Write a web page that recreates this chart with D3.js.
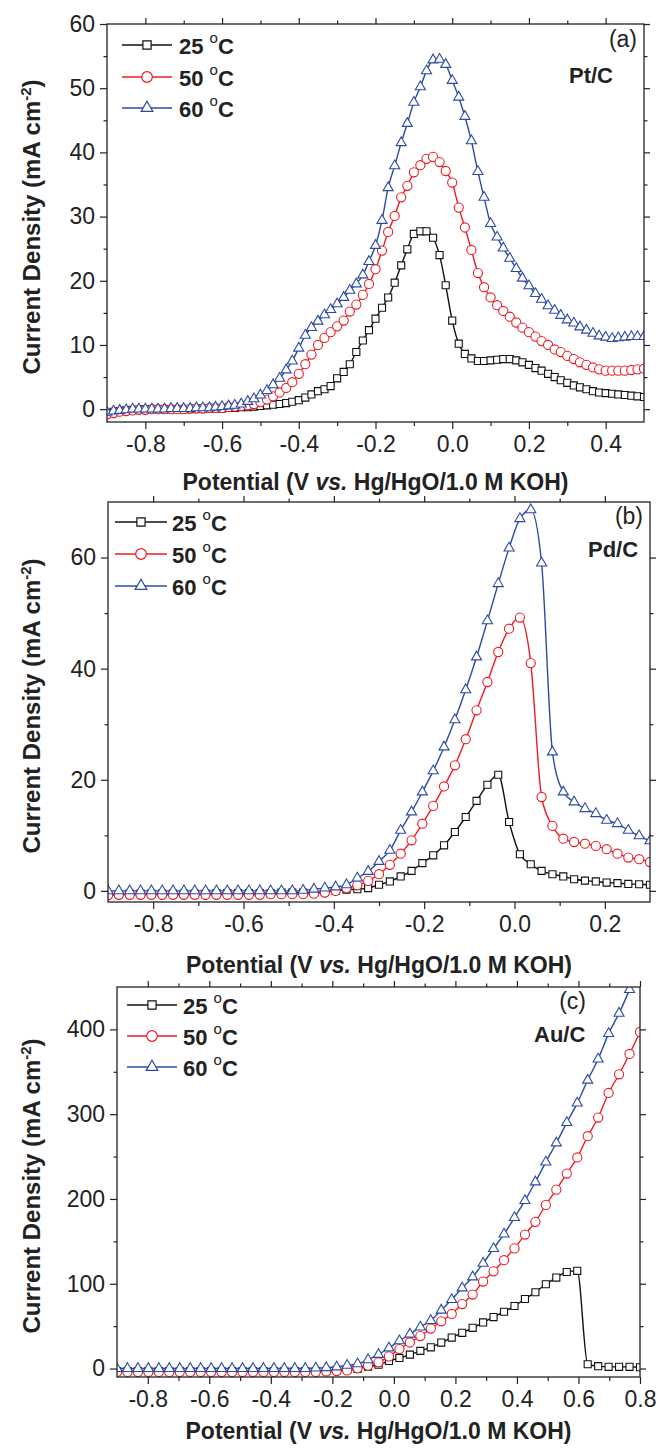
<!DOCTYPE html>
<html><head><meta charset="utf-8">
<script src="https://cdn.jsdelivr.net/npm/d3@7/dist/d3.min.js"></script>
<style>
body{margin:0;background:#fff;}
svg text{font-family:"Liberation Sans",Arial,Helvetica,sans-serif;fill:#222;}
</style></head><body>
<svg id="chart" width="660" height="1450"></svg>
<script>
// ---------------- DATA ----------------
const seriesLabels = ["25", "50", "60"];

// Panel (a) Pt/C
const potentialA = [-0.900,-0.883,-0.867,-0.850,-0.833,-0.817,-0.800,-0.783,-0.767,-0.750,
 -0.733,-0.717,-0.700,-0.683,-0.667,-0.650,-0.633,-0.617,-0.600,-0.583,
 -0.567,-0.550,-0.533,-0.517,-0.500,-0.483,-0.467,-0.450,-0.433,-0.417,
 -0.400,-0.383,-0.367,-0.350,-0.333,-0.317,-0.300,-0.283,-0.267,-0.250,
 -0.233,-0.217,-0.200,-0.183,-0.167,-0.150,-0.133,-0.117,-0.100,-0.083,
 -0.067,-0.050,-0.033,-0.017,0.000,0.017,0.033,0.050,0.067,0.083,
 0.100,0.117,0.133,0.150,0.167,0.183,0.200,0.217,0.233,0.250,
 0.267,0.283,0.300,0.317,0.333,0.350,0.367,0.383,0.400,0.417,
 0.433,0.450,0.467,0.483,0.500];
const ptc25 = [-0.6,-0.4,-0.3,-0.2,-0.1,-0.1,0,0,0,0,
 0,0,0,0,0.1,0.1,0.1,0.1,0.1,0.2,
 0.2,0.3,0.3,0.4,0.5,0.6,0.7,0.8,0.95,1.15,
 1.4,1.8,2.3,2.8,3.1,3.6,4.8,5.8,7.0,8.9,
 10.7,12.3,14.1,15.8,17.4,19.7,22.4,24.9,27.3,27.7,
 27.7,26.7,24.0,19.3,13.8,10.2,8.6,7.9,7.5,7.5,
 7.6,7.7,7.8,7.8,7.6,7.3,6.9,6.4,6.0,5.5,
 5.0,4.5,4.1,3.7,3.4,3.1,2.8,2.6,2.5,2.4,
 2.3,2.2,2.1,2.0,1.9];
const ptc50 = [-0.8,-0.6,-0.4,-0.3,-0.2,-0.1,-0.1,0,0,0,
 0,0,0,0.1,0.1,0.1,0.2,0.2,0.2,0.3,
 0.4,0.5,0.6,0.8,1.1,1.5,2.0,2.6,3.3,4.2,
 5.5,7.0,8.5,10.0,11.1,12.0,12.9,13.8,15.2,16.3,
 17.8,19.5,21.8,24.7,27.6,30.1,33.0,34.8,36.9,38.0,
 39.0,39.3,38.5,37.1,35.3,31.4,28.3,24.8,21.2,19.0,
 17.4,16.2,15.3,14.4,13.5,12.7,12.0,11.3,10.6,10.0,
 9.3,8.9,8.3,7.8,7.3,6.9,6.5,6.2,6.0,6.0,
 6.0,6.0,6.1,6.2,6.3];
const ptc60 = [-0.5,-0.3,-0.2,-0.1,0,0,0,0,0,0,
 0.1,0.1,0.1,0.1,0.2,0.2,0.2,0.3,0.4,0.5,
 0.6,0.8,1.2,1.6,2.2,2.9,3.8,4.8,6.1,7.5,
 9.5,11.5,12.7,13.7,14.7,15.5,16.4,17.4,18.5,19.5,
 20.9,23.0,25.5,29.4,34.5,37.9,41.5,44.5,47.8,50.2,
 52.7,54.4,54.5,53.7,51.2,48.6,45.6,41.8,37.0,33.0,
 28.9,26.8,25.1,23.5,21.9,20.4,19.2,18.0,17.1,16.1,
 15.4,14.6,13.9,13.4,12.8,12.3,11.8,11.4,11.2,11.0,
 11.1,11.2,11.3,11.3,11.3];
const xTicksA = [-0.8,-0.6,-0.4,-0.2,0.0,0.2,0.4];
const xMinorA = [-0.7,-0.5,-0.3,-0.1,0.1,0.3];
const yTicksA = [0,10,20,30,40,50,60];
const yMinorA = [5,15,25,35,45,55];

// Panel (b) Pd/C
const potentialB = [-0.900,-0.876,-0.852,-0.828,-0.804,-0.780,-0.756,-0.732,-0.708,-0.684,
 -0.660,-0.636,-0.612,-0.588,-0.564,-0.540,-0.516,-0.492,-0.468,-0.444,
 -0.420,-0.396,-0.372,-0.348,-0.324,-0.300,-0.276,-0.252,-0.228,-0.204,
 -0.180,-0.156,-0.132,-0.108,-0.084,-0.060,-0.036,-0.012,0.012,0.036,
 0.060,0.084,0.108,0.132,0.156,0.180,0.204,0.228,0.252,0.276,0.300];
const pdc25 = [-0.7,-0.6,-0.5,-0.5,-0.5,-0.5,-0.5,-0.5,-0.5,-0.5,
 -0.4,-0.4,-0.4,-0.4,-0.4,-0.4,-0.3,-0.3,-0.3,-0.3,
 -0.2,0.0,0.2,0.3,0.5,1.1,1.7,2.6,3.6,5.0,
 6.4,8.2,10.6,13.3,16.2,19.1,20.9,12.4,6.6,4.8,
 3.6,3.0,2.6,2.1,1.85,1.7,1.5,1.4,1.25,1.2,1.1];
const pdc50 = [-0.8,-0.7,-0.7,-0.7,-0.7,-0.7,-0.7,-0.7,-0.7,-0.7,
 -0.7,-0.7,-0.7,-0.7,-0.7,-0.6,-0.6,-0.6,-0.6,-0.5,
 -0.3,0.0,0.5,1.0,1.8,3.0,4.7,6.7,9.1,12.1,
 15.3,18.8,22.6,27.3,32.5,37.6,43.0,47.2,49.2,41.0,
 16.9,11.7,9.4,8.8,8.5,8.1,7.5,6.7,6.0,5.7,5.2];
const pdc60 = [0.0,0.0,0.0,0.0,0.0,0.0,0.0,0.0,0.0,0.0,
 0.0,0.0,0.0,0.0,0.0,0.0,0.0,0.0,0.1,0.3,
 0.5,0.7,1.1,2.3,3.5,5.3,7.3,10.9,14.2,17.8,
 21.6,25.9,30.8,36.2,42.1,48.6,55.3,61.7,67.0,68.6,
 59.0,25.0,17.8,16.0,14.8,13.9,12.7,12.1,10.9,9.9,9.0];
const xTicksB = [-0.8,-0.6,-0.4,-0.2,0.0,0.2];
const xMinorB = [-0.7,-0.5,-0.3,-0.1,0.1];
const yTicksB = [0,20,40,60];
const yMinorB = [10,30,50];

// Panel (c) Au/C
const potentialC = [-0.900,-0.866,-0.832,-0.798,-0.764,-0.730,-0.696,-0.662,-0.628,-0.594,
 -0.560,-0.526,-0.492,-0.458,-0.424,-0.390,-0.356,-0.322,-0.288,-0.254,
 -0.220,-0.186,-0.152,-0.118,-0.084,-0.050,-0.016,0.018,0.052,0.086,
 0.120,0.154,0.188,0.222,0.256,0.290,0.324,0.358,0.392,0.426,
 0.460,0.494,0.528,0.562,0.596,0.630,0.664,0.698,0.732,0.766,0.800];
const auc25 = [-3,-3,-3,-3,-3,-3,-3,-3,-3,-3,
 -3,-3,-3,-3,-3,-3,-3,-3,-3,-3,
 -3,-2,-1.5,-0.5,2.1,4.5,9.0,12.4,16.4,20.8,
 25.0,30.6,36.5,42.1,48.0,54.4,60.7,67.0,73.7,82.0,
 90.0,99.4,107.3,113.8,115.2,5.0,2.8,2.0,2.0,2.0,1.5];
const auc50 = [-4,-4,-4,-4,-4,-4,-4,-4,-4,-4,
 -4,-4,-4,-4,-4,-4,-4,-4,-4,-4,
 -3.5,-3.0,-2.2,0.2,3.4,7.3,14.3,23.0,30.7,38.3,
 47.1,55.7,64.4,76.0,87.2,102.6,114.7,127.8,141.7,158.0,
 173.0,193.0,211.0,230.0,249.0,274.0,296.0,325.0,347.0,371.0,397.0];
const auc60 = [0,0,0,0,0,0,0,0,0,0,
 0,0,0,0,0,0,0,0,0,0.5,
 1.0,1.8,3.7,5.5,10.3,16.6,24.2,32.6,40.5,48.9,
 56.6,68.8,81.3,95.0,108.0,124.0,141.5,158.5,178.0,198.0,
 220.0,243.5,266.0,290.0,313.0,340.0,365.0,395.0,419.0,447.0,null];
const xTicksC = [-0.8,-0.6,-0.4,-0.2,0.0,0.2,0.4,0.6,0.8];
const xMinorC = [-0.7,-0.5,-0.3,-0.1,0.1,0.3,0.5,0.7];
const yTicksC = [0,100,200,300,400];
const yMinorC = [50,150,250,350];

// ---------------- LAYOUT / STYLE ----------------
const colors = ["#111111", "#ec1c24", "#2b4aa6"];
const symbolTypes = [d3.symbolSquare, d3.symbolCircle, d3.symbolTriangle];
const symbolSizes = [50, 66, 44];
const axisColor = "#222";

const panels = [
  {box:{l:107,r:644,t:24,b:422}, x:potentialA, ys:[ptc25,ptc50,ptc60], xDom:[-0.9,0.5], yDom:[-2,60],
   xMajor:xTicksA, xMinor:xMinorA, yMajor:yTicksA, yMinor:yMinorA,
   legend:{x0:122,x1:172,tx:179,rows:[45,77,108]},
   tag:{text:"(a)",x:637,y:47}, name:{text:"Pt/C",x:569,y:83}, xTitleY:490},
  {box:{l:108,r:650,t:502,b:902}, x:potentialB, ys:[pdc25,pdc50,pdc60], xDom:[-0.9,0.3], yDom:[-2,70],
   xMajor:xTicksB, xMinor:xMinorB, yMajor:yTicksB, yMinor:yMinorB,
   legend:{x0:115,x1:167,tx:172,rows:[522,554,586]},
   tag:{text:"(b)",x:643,y:524}, name:{text:"Pd/C",x:588,y:557}, xTitleY:973},
  {box:{l:117,r:640,t:987,b:1377}, x:potentialC, ys:[auc25,auc50,auc60], xDom:[-0.9,0.8], yDom:[-10,450],
   xMajor:xTicksC, xMinor:xMinorC, yMajor:yTicksC, yMinor:yMinorC,
   legend:{x0:127,x1:177,tx:183,rows:[1005,1036,1067]},
   tag:{text:"(c)",x:586,y:1009}, name:{text:"Au/C",x:534,y:1042}, xTitleY:1439}
];

const svg = d3.select("#chart");

function styleAxis(g){
  g.select(".domain").remove();
  g.selectAll(".tick line").attr("stroke", axisColor).attr("stroke-width", 1.2);
  g.selectAll(".tick text").attr("font-size", 23).attr("fill", axisColor);
}

panels.forEach((p, pi) => {
  const {l, r, t, b} = p.box;
  const x = d3.scaleLinear().domain(p.xDom).range([l, r]);
  const y = d3.scaleLinear().domain(p.yDom).range([b, t]);
  const g = svg.append("g");

  // axes (ticks outward on all four sides)
  g.append("g").attr("transform", `translate(0,${b})`)
    .call(d3.axisBottom(x).tickValues(p.xMajor).tickSize(7).tickPadding(7).tickFormat(d => d.toFixed(1))).call(styleAxis);
  g.append("g").attr("transform", `translate(0,${b})`)
    .call(d3.axisBottom(x).tickValues(p.xMinor).tickSize(4).tickFormat("")).call(styleAxis);
  g.append("g").attr("transform", `translate(0,${t})`)
    .call(d3.axisTop(x).tickValues(p.xMajor).tickSize(6).tickFormat("")).call(styleAxis);
  g.append("g").attr("transform", `translate(0,${t})`)
    .call(d3.axisTop(x).tickValues(p.xMinor).tickSize(3.5).tickFormat("")).call(styleAxis);
  g.append("g").attr("transform", `translate(${l},0)`)
    .call(d3.axisLeft(y).tickValues(p.yMajor).tickSize(7).tickPadding(5).tickFormat(d => d)).call(styleAxis);
  g.append("g").attr("transform", `translate(${l},0)`)
    .call(d3.axisLeft(y).tickValues(p.yMinor).tickSize(3.5).tickFormat("")).call(styleAxis);
  g.append("g").attr("transform", `translate(${r},0)`)
    .call(d3.axisRight(y).tickValues(p.yMajor).tickSize(6).tickFormat("")).call(styleAxis);
  g.append("g").attr("transform", `translate(${r},0)`)
    .call(d3.axisRight(y).tickValues(p.yMinor).tickSize(3.5).tickFormat("")).call(styleAxis);

  // clip
  const cid = "clip" + pi;
  svg.append("clipPath").attr("id", cid).append("rect")
    .attr("x", l).attr("y", t).attr("width", r - l).attr("height", b - t);
  const plot = g.append("g").attr("clip-path", `url(#${cid})`);

  const line = d3.line().defined(d => d[1] != null)
    .x(d => x(d[0])).y(d => y(d[1])).curve(d3.curveMonotoneX);

  p.ys.forEach((vals, si) => {
    const pts = p.x.map((v, i) => [v, vals[i]]);
    plot.append("path").datum(pts).attr("d", line)
      .attr("fill", "none").attr("stroke", colors[si]).attr("stroke-width", 1.4);
    plot.append("g").selectAll("path").data(pts.filter(d => d[1] != null)).join("path")
      .attr("d", d3.symbol().type(symbolTypes[si]).size(symbolSizes[si]))
      .attr("transform", d => `translate(${x(d[0])},${y(d[1])})`)
      .attr("fill", "#fff").attr("stroke", colors[si]).attr("stroke-width", 1.1);
  });

  // frame
  g.append("rect").attr("x", l).attr("y", t).attr("width", r - l).attr("height", b - t)
    .attr("fill", "none").attr("stroke", axisColor).attr("stroke-width", 1.3);

  // legend
  const lg = p.legend;
  seriesLabels.forEach((lab, si) => {
    const ry = lg.rows[si];
    g.append("line").attr("x1", lg.x0).attr("x2", lg.x1).attr("y1", ry).attr("y2", ry)
      .attr("stroke", colors[si]).attr("stroke-width", 1.5);
    g.append("path").attr("d", d3.symbol().type(symbolTypes[si]).size(symbolSizes[si] * 1.35)())
      .attr("transform", `translate(${(lg.x0 + lg.x1) / 2},${ry})`)
      .attr("fill", "#fff").attr("stroke", colors[si]).attr("stroke-width", 1.2);
    const tx = g.append("text").attr("x", lg.tx).attr("y", ry + 8.5)
      .attr("font-size", 22).attr("font-weight", "bold");
    tx.append("tspan").text(lab + " ");
    tx.append("tspan").attr("dy", -11).attr("font-size", 15).attr("font-weight", "normal").text("o");
    tx.append("tspan").attr("dy", 11).text("C");
  });

  // panel tag and catalyst name
  g.append("text").attr("x", p.tag.x).attr("y", p.tag.y).attr("text-anchor", "end")
    .attr("font-size", 23).text(p.tag.text);
  g.append("text").attr("x", p.name.x).attr("y", p.name.y)
    .attr("font-size", 22).attr("font-weight", "bold").text(p.name.text);

  // x title
  const xt = g.append("text").attr("x", (l + r) / 2).attr("y", p.xTitleY)
    .attr("text-anchor", "middle").attr("font-size", 23).attr("font-weight", "bold");
  xt.append("tspan").text("Potential (V ");
  xt.append("tspan").attr("font-style", "italic").text("vs.");
  xt.append("tspan").text(" Hg/HgO/1.0 M KOH)");

  // y title
  const yt = g.append("text")
    .attr("transform", `translate(40,${(t + b) / 2 + 4}) rotate(-90)`)
    .attr("text-anchor", "middle").attr("font-size", 24).attr("font-weight", "bold");
  yt.append("tspan").text("Current Density (mA cm");
  yt.append("tspan").attr("dy", -9).attr("font-size", 15).text("-2");
  yt.append("tspan").attr("dy", 9).text(")");
});
</script>
</body></html>
